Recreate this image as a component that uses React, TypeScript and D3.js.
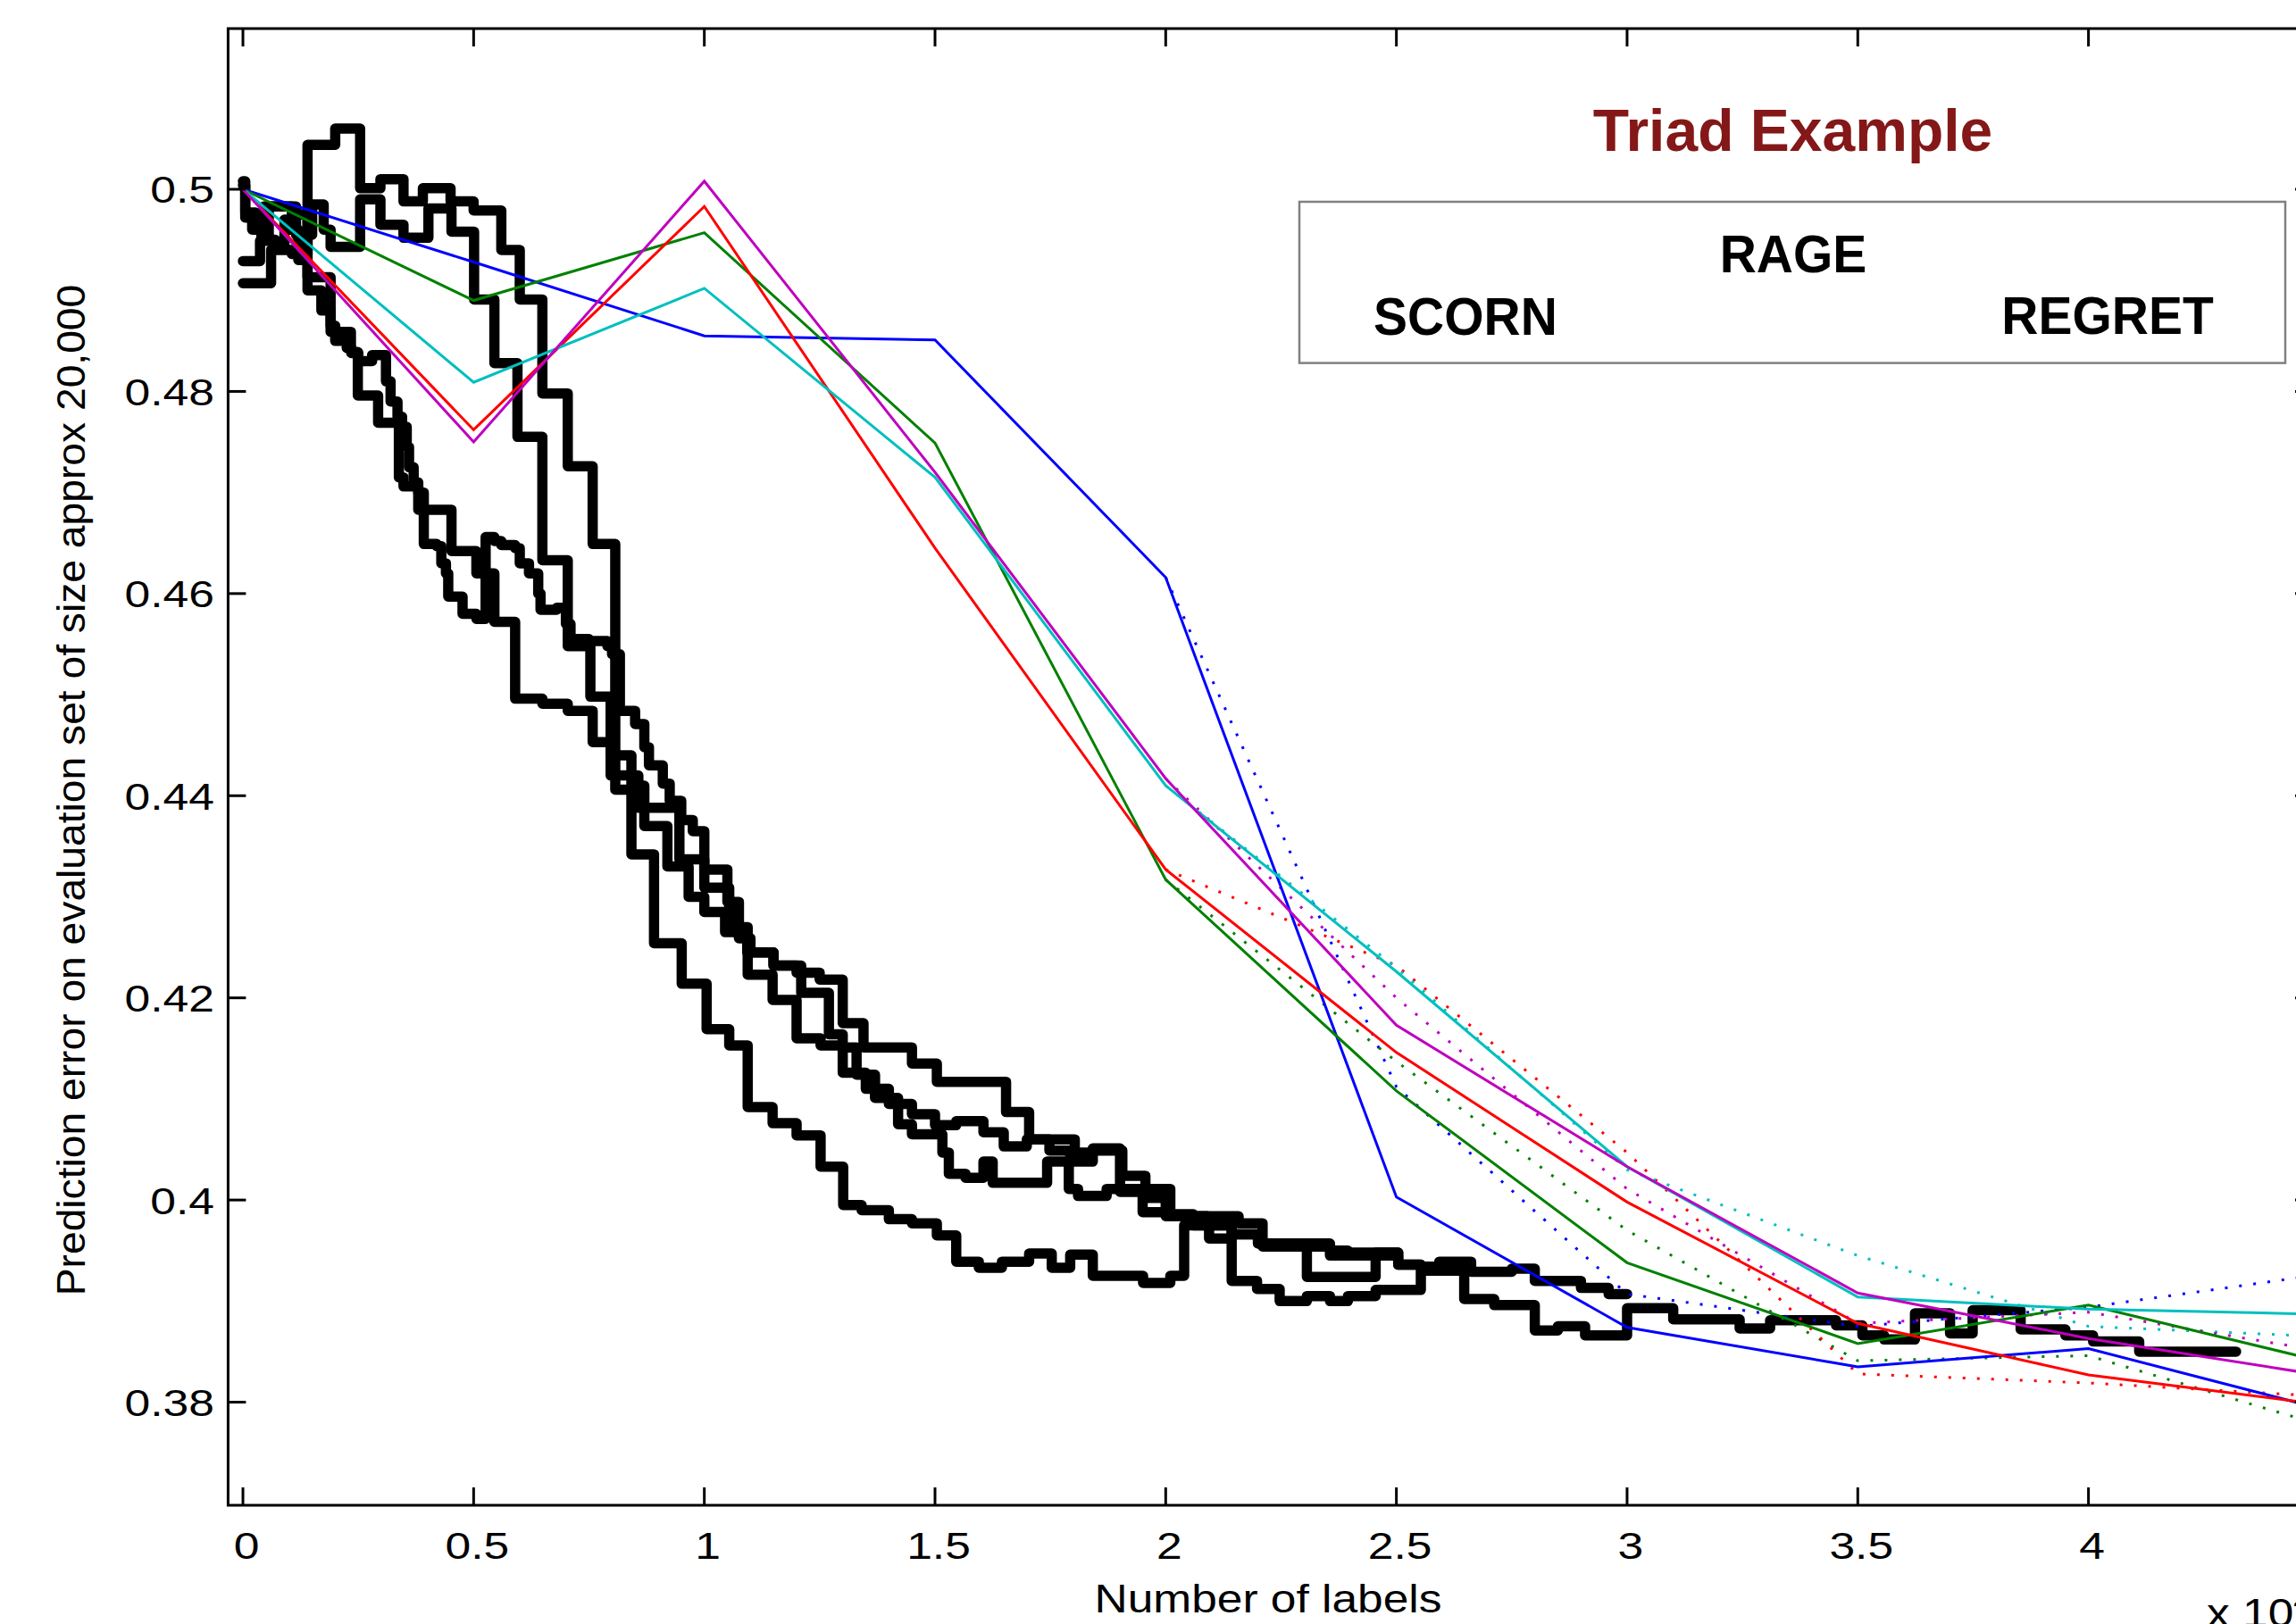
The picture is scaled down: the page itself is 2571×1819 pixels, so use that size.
import React from 'react';
import * as d3 from 'd3';

// ---------------- data ----------------
const xSolid = [0, 0.5, 1, 1.5, 2, 2.5, 3, 3.5, 4, 4.5];
const blueSolid = [0.5, 0.4928, 0.4855, 0.4851, 0.4616, 0.4003, 0.3874, 0.3835, 0.3853, 0.3794];
const greenSolid = [0.5, 0.489, 0.4957, 0.4749, 0.4317, 0.4108, 0.3938, 0.3858, 0.3896, 0.3841];
const redSolid = [0.5, 0.4762, 0.4983, 0.4645, 0.4327, 0.4146, 0.3998, 0.3878, 0.3827, 0.3798];
const cyanSolid = [0.5, 0.4809, 0.4902, 0.4715, 0.441, 0.4226, 0.4033, 0.3904, 0.3892, 0.3887];
const magentaSolid = [0.5, 0.475, 0.5008, 0.472, 0.4417, 0.4173, 0.4033, 0.3908, 0.3863, 0.3827];

const xDotted = [2, 2.5, 3, 3.5, 4, 4.5];
const blueDotted = [0.4616, 0.4112, 0.3907, 0.3875, 0.3894, 0.3926];
const greenDotted = [0.4317, 0.4137, 0.397, 0.3841, 0.3846, 0.3778];
const redDotted = [0.4327, 0.4232, 0.4047, 0.3828, 0.3819, 0.3806];
const cyanDotted = [0.441, 0.423, 0.403, 0.3945, 0.3875, 0.3865];
const magentaDotted = [0.4417, 0.42, 0.4011, 0.3878, 0.3889, 0.3851];

// black step curves: [x (x10^4 labels), error]
const run1: [number, number][] = [
  [0, 0.4907], [0.061, 0.494], [0.106, 0.4936], [0.14, 0.5044], [0.2, 0.506], [0.254, 0.5001],
  [0.298, 0.501], [0.348, 0.4988], [0.39, 0.5001], [0.45, 0.4988], [0.5, 0.4979], [0.56, 0.494],
  [0.6, 0.4891], [0.649, 0.4798], [0.704, 0.4726], [0.758, 0.4649], [0.807, 0.4406], [0.842, 0.4342],
  [0.891, 0.4254], [0.951, 0.4214], [1.005, 0.4169], [1.054, 0.4153], [1.094, 0.4092], [1.148, 0.4076],
  [1.2, 0.4064], [1.252, 0.4033], [1.301, 0.3995], [1.341, 0.399], [1.4, 0.3981], [1.45, 0.3977],
  [1.504, 0.3965], [1.546, 0.3939], [1.595, 0.3933], [1.645, 0.3939], [1.704, 0.3947], [1.753, 0.3933],
  [1.793, 0.3946], [1.842, 0.3925], [1.951, 0.3918], [2.01, 0.3925], [2.04, 0.3975], [2.094, 0.3962],
  [2.143, 0.392], [2.198, 0.3912], [2.247, 0.39], [2.306, 0.3905], [2.356, 0.39], [2.395, 0.3905],
  [2.455, 0.3911], [2.553, 0.393], [2.647, 0.3902], [2.712, 0.3896], [2.8, 0.3871], [2.85, 0.3875],
  [2.909, 0.3866], [3.0, 0.3893], [3.1, 0.3882], [3.244, 0.3873], [3.31, 0.3881], [3.453, 0.3876],
  [3.51, 0.3866], [3.557, 0.3862], [3.624, 0.3888], [3.7, 0.3868], [3.749, 0.3891], [3.853, 0.3872],
  [3.95, 0.3866], [4.01, 0.386], [4.11, 0.385], [4.32, 0.385],
];
const run2: [number, number][] = [
  [0, 0.5008], [0.005, 0.4977], [0.027, 0.4965], [0.045, 0.4983], [0.1, 0.4983], [0.115, 0.4955],
  [0.15, 0.4985], [0.175, 0.496], [0.19, 0.4943], [0.254, 0.499], [0.298, 0.4965], [0.348, 0.4952],
  [0.402, 0.4981], [0.452, 0.4958], [0.501, 0.4891], [0.545, 0.4828], [0.595, 0.4755], [0.649, 0.4633],
  [0.704, 0.4548], [0.753, 0.4498], [0.797, 0.444], [0.842, 0.441], [0.87, 0.437], [0.92, 0.433],
  [0.966, 0.43], [1.0, 0.4285], [1.045, 0.4265], [1.093, 0.4245], [1.15, 0.4232], [1.2, 0.4225],
  [1.25, 0.4218], [1.3, 0.4175], [1.345, 0.4151], [1.45, 0.4135], [1.504, 0.4117], [1.654, 0.4087],
  [1.704, 0.406], [1.803, 0.4047], [1.842, 0.4049], [1.906, 0.4024], [1.956, 0.4011], [2.01, 0.3986],
  [2.06, 0.3984], [2.158, 0.3977], [2.21, 0.3954], [2.356, 0.395], [2.395, 0.3945], [2.504, 0.3936],
  [2.553, 0.3934], [2.593, 0.3939], [2.662, 0.3929], [2.75, 0.3932], [2.8, 0.392], [2.9, 0.3913],
  [2.96, 0.3907], [3.0, 0.3907],
];
const run3: [number, number][] = [
  [0, 0.4929], [0.037, 0.4949], [0.056, 0.4983], [0.106, 0.4975], [0.14, 0.4913], [0.19, 0.4859],
  [0.234, 0.4839], [0.249, 0.4796], [0.293, 0.4769], [0.338, 0.4715], [0.348, 0.4706], [0.38, 0.4683],
  [0.452, 0.4642], [0.506, 0.462], [0.545, 0.4572], [0.59, 0.4496], [0.649, 0.4491], [0.704, 0.4484],
  [0.758, 0.4453], [0.797, 0.442], [0.857, 0.4388], [0.946, 0.4337], [1.0, 0.4309], [1.054, 0.427],
  [1.094, 0.4223], [1.148, 0.4198], [1.2, 0.416], [1.252, 0.4153], [1.3, 0.4126], [1.35, 0.411],
  [1.4, 0.4095], [1.45, 0.4085], [1.5, 0.4074], [1.546, 0.4078], [1.605, 0.4067], [1.649, 0.4053],
  [1.699, 0.406], [1.748, 0.4049], [1.793, 0.4038], [1.842, 0.4051], [1.901, 0.4008], [1.951, 0.4002],
  [2.0, 0.3984], [2.06, 0.3975], [2.143, 0.3966], [2.2, 0.3957], [2.23, 0.3954], [2.306, 0.3924],
  [2.455, 0.3948], [2.504, 0.3948],
];
const run4: [number, number][] = [
  [0, 0.5004], [0.005, 0.4972], [0.02, 0.496], [0.04, 0.495], [0.07, 0.4945], [0.09, 0.497],
  [0.1, 0.496], [0.12, 0.493], [0.14, 0.49], [0.17, 0.488], [0.19, 0.4865], [0.2, 0.485],
  [0.225, 0.4843], [0.235, 0.4838], [0.25, 0.483], [0.28, 0.4836], [0.31, 0.481], [0.32, 0.479],
  [0.335, 0.4775], [0.345, 0.4765], [0.355, 0.4745], [0.36, 0.4725], [0.37, 0.471], [0.38, 0.47],
  [0.392, 0.4649], [0.42, 0.4647], [0.43, 0.463], [0.44, 0.462], [0.445, 0.4597], [0.47, 0.4597],
  [0.476, 0.458], [0.506, 0.4575], [0.526, 0.4656], [0.545, 0.4652], [0.56, 0.4648], [0.59, 0.4645],
  [0.6, 0.463], [0.62, 0.462], [0.64, 0.46], [0.645, 0.4584], [0.68, 0.4586], [0.7, 0.457],
  [0.71, 0.4555], [0.75, 0.4553], [0.79, 0.4548], [0.8, 0.454], [0.817, 0.4484], [0.85, 0.4471],
  [0.87, 0.4448], [0.88, 0.443], [0.91, 0.4412], [0.925, 0.4395], [0.95, 0.4376], [0.975, 0.4365],
  [1.0, 0.4327], [1.05, 0.4295], [1.075, 0.4259], [1.1, 0.4245], [1.15, 0.4232], [1.21, 0.4205],
  [1.27, 0.4164], [1.3, 0.4151], [1.33, 0.4124], [1.37, 0.4101], [1.42, 0.4075], [1.45, 0.4065],
  [1.516, 0.4047], [1.53, 0.4026], [1.566, 0.4022], [1.605, 0.4038], [1.625, 0.4017], [1.7, 0.4017],
  [1.743, 0.4038], [1.79, 0.4011], [1.81, 0.4004], [1.872, 0.4011], [1.95, 0.3988], [2.01, 0.3984],
  [2.09, 0.3975], [2.143, 0.3966], [2.2, 0.3957], [2.356, 0.3945], [2.395, 0.3948], [2.504, 0.3936],
  [2.553, 0.3934], [2.6, 0.3934],
];

const xTicks = [0, 0.5, 1, 1.5, 2, 2.5, 3, 3.5, 4];
const yTicks = [0.38, 0.4, 0.42, 0.44, 0.46, 0.48, 0.5];
const titleText = 'Triad Example';
const legendWords = { top: 'RAGE', left: 'SCORN', right: 'REGRET' };
const xLabel = 'Number of labels';
const yLabel = 'Prediction error on evaluation set of size approx 20,000';

// ---------------- layout ----------------
const W = 2571;
const H = 1819;
const FR = { left: 255.4, right: 2590, top: 32, bottom: 1686 };
const X_LIM: [number, number] = [-0.0322, 4.4866];
const Y_LIM: [number, number] = [0.3698, 0.5159];
const FONT = "'Liberation Sans', Arial, Helvetica, sans-serif";
const TICK = 20;

const C = {
  blue: '#0000ff',
  green: '#008000',
  red: '#ff0000',
  cyan: '#00bfbf',
  magenta: '#bf00bf',
};

function SText(props: any) {
  const { x, y, sx = 1, rotate = 0, size, anchor = 'middle', weight = 'normal', fill = '#000', children, dy } = props;
  return (
    <text
      transform={`translate(${x},${y}) rotate(${rotate}) scale(${sx},1)`}
      textAnchor={anchor}
      fontSize={size}
      fontWeight={weight}
      fill={fill}
      fontFamily={FONT}
      dy={dy}
    >
      {children}
    </text>
  );
}

export default function App() {
  const x = d3.scaleLinear().domain(X_LIM).range([FR.left, FR.right]);
  const y = d3.scaleLinear().domain(Y_LIM).range([FR.bottom, FR.top]);

  const lin = d3
    .line<[number, number]>()
    .x((d) => x(d[0]))
    .y((d) => y(d[1]));
  const step = d3
    .line<[number, number]>()
    .x((d) => x(d[0]))
    .y((d) => y(d[1]))
    .curve(d3.curveStepAfter);

  const zip = (xs: number[], ys: number[]) => xs.map((v, i) => [v, ys[i]] as [number, number]);

  const solids = [
    { c: C.blue, d: zip(xSolid, blueSolid) },
    { c: C.green, d: zip(xSolid, greenSolid) },
    { c: C.red, d: zip(xSolid, redSolid) },
    { c: C.cyan, d: zip(xSolid, cyanSolid) },
    { c: C.magenta, d: zip(xSolid, magentaSolid) },
  ];
  const dotted = [
    { c: C.blue, d: zip(xDotted, blueDotted) },
    { c: C.green, d: zip(xDotted, greenDotted) },
    { c: C.red, d: zip(xDotted, redDotted) },
    { c: C.cyan, d: zip(xDotted, cyanDotted) },
    { c: C.magenta, d: zip(xDotted, magentaDotted) },
  ];
  const runs = [run1, run2, run3, run4];
  const fmt = (v: number) => String(+v.toFixed(2));

  return (
    <svg
      width={W}
      height={H}
      viewBox={`0 0 ${W} ${H}`}
      style={{ position: 'absolute', left: 0, top: 0, background: '#fff' }}
    >
      <rect x={0} y={0} width={W} height={H} fill="#fff" />
      <defs>
        <clipPath id="plotClip">
          <rect x={FR.left} y={FR.top} width={FR.right - FR.left} height={FR.bottom - FR.top} />
        </clipPath>
      </defs>

      <g clipPath="url(#plotClip)">
        {runs.map((r, i) => (
          <path
            key={'run' + i}
            d={step(r) || ''}
            fill="none"
            stroke="#000"
            strokeWidth={11.5}
            strokeLinejoin="round"
            strokeLinecap="round"
          />
        ))}
        {dotted.map((s, i) => (
          <path
            key={'dot' + i}
            d={lin(s.d) || ''}
            fill="none"
            stroke={s.c}
            strokeWidth={3}
            strokeDasharray="3,13"
          />
        ))}
        {solids.map((s, i) => (
          <path key={'sol' + i} d={lin(s.d) || ''} fill="none" stroke={s.c} strokeWidth={3} />
        ))}
      </g>

      {/* axes frame */}
      <rect
        x={FR.left}
        y={FR.top}
        width={FR.right - FR.left}
        height={FR.bottom - FR.top}
        fill="none"
        stroke="#000"
        strokeWidth={3}
      />
      {xTicks.map((t) => (
        <g key={'xt' + t}>
          <line x1={x(t)} x2={x(t)} y1={FR.bottom} y2={FR.bottom - TICK} stroke="#000" strokeWidth={3} />
          <line x1={x(t)} x2={x(t)} y1={FR.top} y2={FR.top + TICK} stroke="#000" strokeWidth={3} />
          <SText x={x(t) + 4} y={1746} size={43} sx={1.2}>
            {fmt(t)}
          </SText>
        </g>
      ))}
      {yTicks.map((t) => (
        <g key={'yt' + t}>
          <line x1={FR.left} x2={FR.left + TICK} y1={y(t)} y2={y(t)} stroke="#000" strokeWidth={3} />
          <line x1={FR.right} x2={FR.right - TICK} y1={y(t)} y2={y(t)} stroke="#000" strokeWidth={3} />
          <SText x={240} y={y(t)} size={43} sx={1.2} anchor="end" dy="0.36em">
            {fmt(t)}
          </SText>
        </g>
      ))}

      <SText x={1420} y={1806} size={44} sx={1.17}>
        {xLabel}
      </SText>
      <SText x={95} y={885} size={44} sx={1.05} rotate={-90}>
        {yLabel}
      </SText>
      <text
        transform={`translate(2471,1822) scale(1.17,1)`}
        fontSize={44}
        fontFamily={FONT}
        fill="#000"
      >
        x 10<tspan dy={-18} fontSize={32}>4</tspan>
      </text>

      {/* title and legend */}
      <SText x={2007.5} y={169} size={66} weight="bold" fill="#841717">
        {titleText}
      </SText>
      <rect x={1455} y={226} width={1104} height={180.6} fill="#fff" stroke="#808080" strokeWidth={2.5} />
      <SText x={2008} y={305} size={60} sx={0.95} weight="bold">
        {legendWords.top}
      </SText>
      <SText x={1641} y={374.5} size={60} sx={0.95} weight="bold">
        {legendWords.left}
      </SText>
      <SText x={2360} y={374} size={60} sx={0.95} weight="bold">
        {legendWords.right}
      </SText>
    </svg>
  );
}
